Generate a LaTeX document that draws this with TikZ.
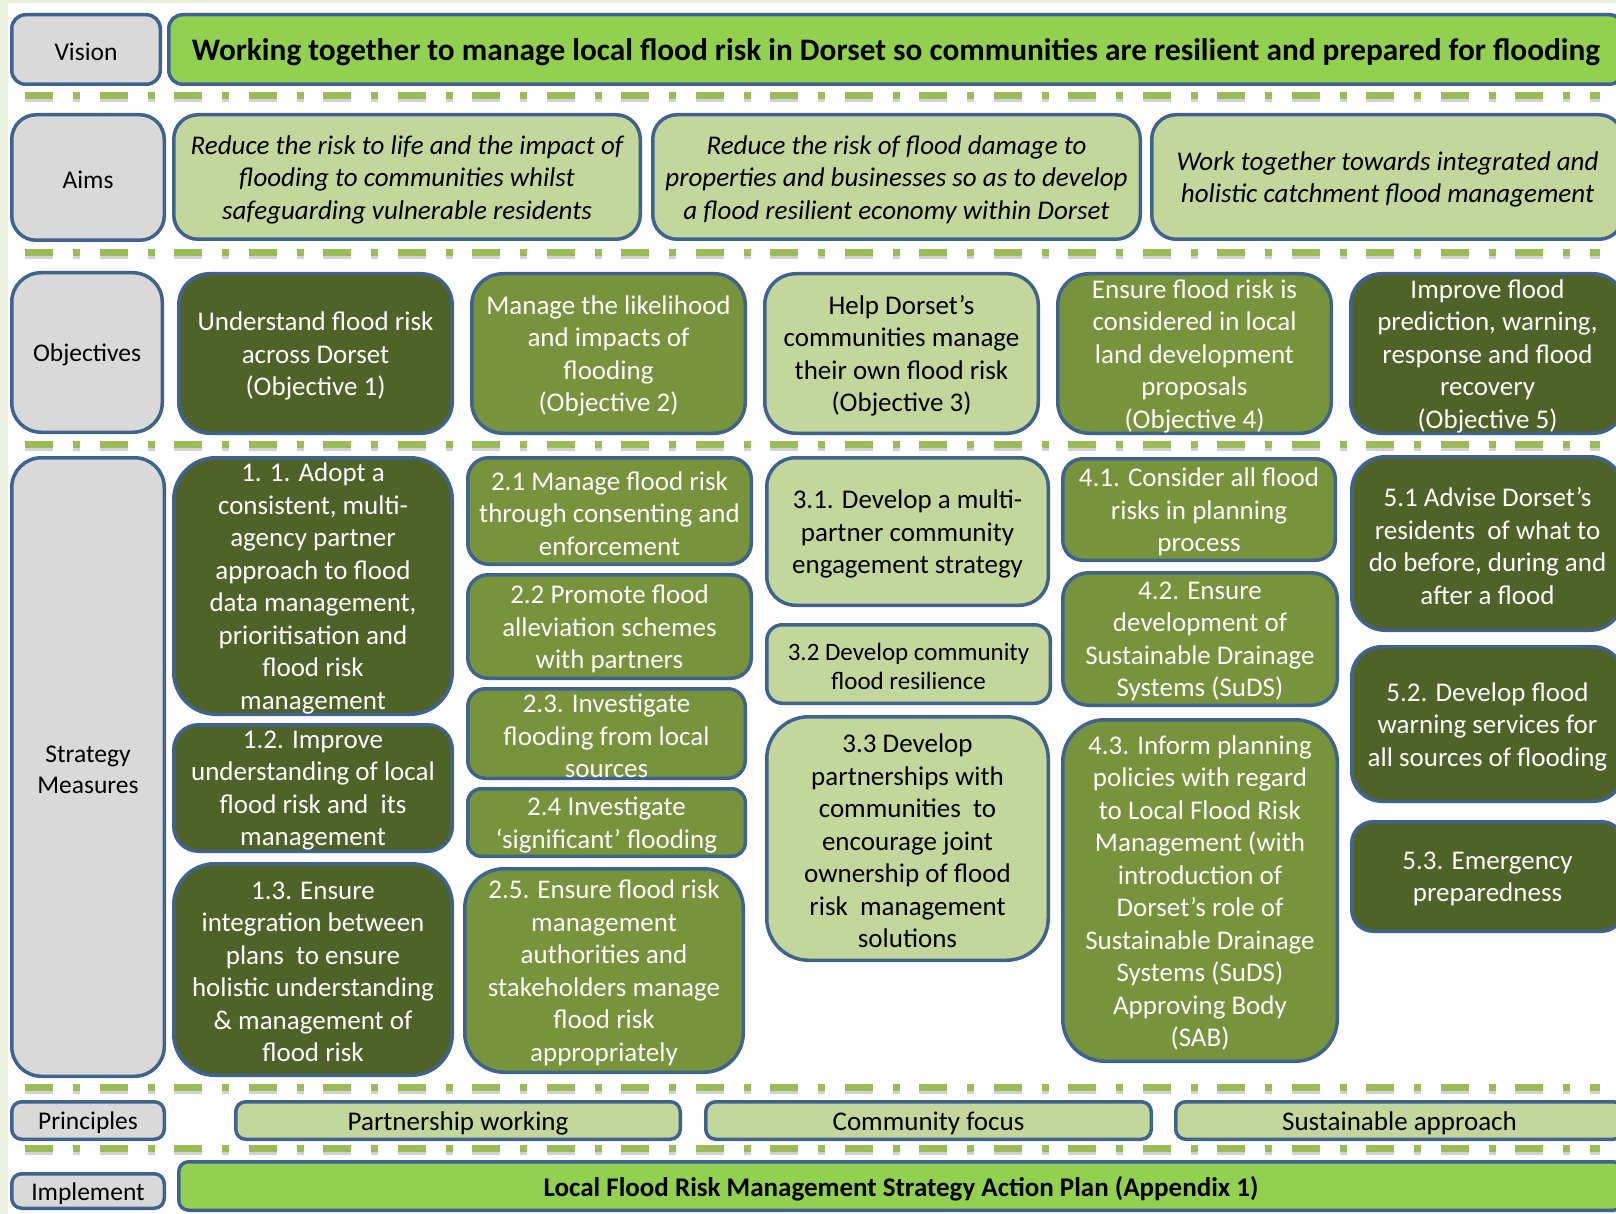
\documentclass[tikz,border=0pt]{standalone}
\usepackage{fontspec}
\setmainfont{Carlito}
\definecolor{bordc}{RGB}{64,99,142}
\definecolor{lgray}{HTML}{D9D9D9}
\definecolor{bgreen}{HTML}{92D050}
\definecolor{lgreen}{HTML}{C3D69B}
\definecolor{mgreen}{HTML}{77933C}
\definecolor{dgreen}{HTML}{4F6228}
\definecolor{dashc}{HTML}{9BBB59}
\definecolor{stripc}{HTML}{EBF1DE}
\newcommand\fsz[2]{\fontsize{#1}{#2}\selectfont}
\newcommand\bx[8]{%
  \pgfmathsetmacro\bw{#4-#2}%
  \pgfmathsetmacro\bh{#5-#3}%
  \pgfmathsetmacro\br{max(10,min(42,0.19*min(\bw,\bh)))}%
  \node[#6, rounded corners=\br pt, minimum width=\bw pt-3.5pt, minimum height=\bh pt-3.5pt, inner sep=0pt] (#1) at ({(#2+#4)/2},{(#3+#5)/2}) {};
  \node[#7] (#1t) at (#1.center) {#8};
}
\newcommand\sepline[1]{%
  \draw[sepshadow] (25,#1) -- (1600,#1);
  \draw[sepdash] (25,#1) -- (1600,#1);
}
\tikzset{
  boxbase/.style={draw=bordc, line width=3.5pt},
  graybox/.style={boxbase, fill=lgray},
  brightbox/.style={boxbase, fill=bgreen},
  lightbox/.style={boxbase, fill=lgreen},
  midbox/.style={boxbase, fill=mgreen},
  darkbox/.style={boxbase, fill=dgreen},
  txt/.style={align=center, inner sep=0pt, yshift=-2.5pt},
  lab/.style={txt, text=black, font=\fsz{25.5}{31}},
  vtxt/.style={txt, text=black, font=\bfseries\fsz{31.3}{36}},
  aimtxt/.style={txt, text=black, font=\itshape\fsz{27}{32.5}},
  tw/.style={txt, text=white, font=\fsz{27}{32.5}},
  tb/.style={txt, text=black, font=\fsz{27}{32.5}},
  tbs/.style={txt, text=black, font=\fsz{25}{29}},
  ptxt/.style={txt, text=black, font=\fsz{27}{30}},
  itxt/.style={txt, text=black, font=\bfseries\fsz{27}{30}},
  sepdash/.style={draw=dashc, line width=7pt, dash pattern=on 28pt off 20pt on 7pt off 19.5pt},
  sepshadow/.style={draw=black, opacity=0.18, line width=7pt, yshift=-3pt, dash pattern=on 28pt off 20pt on 7pt off 19.5pt},
}
\begin{document}
\begin{tikzpicture}[x=1pt,y=-1pt]
\useasboundingbox (0,0) rectangle (1616,1214);
\fill[white] (0,0) rectangle (1616,1214);
\fill[stripc] (0,0) rectangle (1616,3);
\fill[stripc] (0,0) rectangle (8,1214);
% separators
\sepline{96}
\sepline{253}
\sepline{444}
\sepline{1087}
\sepline{1148}
% Vision
\bx{lv}{10}{13}{162}{86}{graybox}{lab}{Vision}
\bx{vis}{167}{13}{1625}{86}{brightbox}{vtxt}{Working together to manage local flood risk in Dorset so communities are resilient and prepared for flooding}
% Aims
\bx{la}{10}{113}{166}{242}{graybox}{lab}{Aims}
\bx{a1}{172}{113}{642}{241}{lightbox}{aimtxt}{Reduce the risk to life and the impact of\\flooding to communities whilst\\safeguarding vulnerable residents}
\bx{a2}{651}{113}{1142}{241}{lightbox}{aimtxt}{Reduce the risk of flood damage to\\properties and businesses so as to develop\\a flood resilient economy within Dorset}
\bx{a3}{1150}{113}{1625}{241}{lightbox}{aimtxt}{Work together towards integrated and\\holistic catchment flood management}
% Objectives
\bx{lo}{10}{271}{164}{434}{graybox}{lab}{Objectives}
\bx{o1}{177}{272}{454}{435}{darkbox}{tw}{Understand flood risk\\across Dorset\\(Objective 1)}
\bx{o2}{470}{272}{747}{435}{midbox}{tw}{Manage the likelihood\\and impacts of\\flooding\\(Objective 2)}
\bx{o3}{763}{272}{1040}{435}{lightbox}{tb}{Help Dorset’s\\communities manage\\their own flood risk\\(Objective 3)}
\bx{o4}{1056}{272}{1333}{435}{midbox}{tw}{Ensure flood risk is\\considered in local\\land development\\proposals\\(Objective 4)}
\bx{o5}{1349}{272}{1626}{435}{darkbox}{tw}{Improve flood\\prediction, warning,\\response and flood\\recovery\\(Objective 5)}
% Strategy measures
\bx{ls}{10}{456}{166}{1078}{graybox}{lab}{Strategy\\Measures}
\bx{s11}{172}{456}{454}{716}{darkbox}{tw}{1. 1. Adopt a\\consistent, multi-\\agency partner\\approach to flood\\data management,\\prioritisation and\\flood risk\\management}
\bx{s12}{172}{723}{454}{853}{darkbox}{tw}{1.2. Improve\\understanding of local\\flood risk and\ \ its\\management}
\bx{s13}{172}{862}{454}{1077}{darkbox}{tw}{1.3. Ensure\\integration between\\plans\ \ to ensure\\holistic understanding\\\& management of\\flood risk}
\bx{s21}{466}{456}{753}{566}{midbox}{tw}{2.1 Manage flood risk\\through consenting and\\enforcement}
\bx{s22}{466}{573}{753}{680}{midbox}{tw}{2.2 Promote flood\\alleviation schemes\\with partners}
\bx{s23}{466}{687}{747}{780}{midbox}{tw}{2.3. Investigate\\flooding from local\\sources}
\bx{s24}{466}{787}{747}{858}{midbox}{tw}{2.4 Investigate\\‘significant’ flooding}
\bx{s25}{463}{867}{745}{1074}{midbox}{tw}{2.5. Ensure flood risk\\management\\authorities and\\stakeholders manage\\flood risk\\appropriately}
\bx{s31}{765}{456}{1050}{607}{lightbox}{tb}{3.1. Develop a multi-\\partner community\\engagement strategy}
\bx{s32}{765}{623}{1052}{705}{lightbox}{tbs}{3.2 Develop community\\flood resilience}
\bx{s33}{765}{715}{1050}{962}{lightbox}{tb}{3.3 Develop\\partnerships with\\communities\ \ to\\encourage joint\\ownership of flood\\risk\ \ management\\solutions}
\bx{s41}{1061}{457}{1337}{562}{midbox}{tw}{4.1. Consider all flood\\risks in planning\\process}
\bx{s42}{1061}{571}{1339}{707}{midbox}{tw}{4.2. Ensure\\development of\\Sustainable Drainage\\Systems (SuDS)}
\bx{s43}{1061}{718}{1339}{1063}{midbox}{tw}{4.3. Inform planning\\policies with regard\\to Local Flood Risk\\Management (with\\introduction of\\Dorset’s role of\\Sustainable Drainage\\Systems (SuDS)\\Approving Body\\(SAB)}
\bx{s51}{1350}{455}{1625}{632}{darkbox}{tw}{5.1 Advise Dorset’s\\residents\ \ of what to\\do before, during and\\after a flood}
\bx{s52}{1350}{645}{1625}{803}{darkbox}{tw}{5.2. Develop flood\\warning services for\\all sources of flooding}
\bx{s53}{1350}{820}{1625}{933}{darkbox}{tw}{5.3. Emergency\\preparedness}
% Principles
\bx{lp}{10}{1100}{166}{1141}{graybox}{lab}{Principles}
\bx{p1}{234}{1100}{682}{1141}{lightbox}{ptxt}{Partnership working}
\bx{p2}{704}{1100}{1153}{1141}{lightbox}{ptxt}{Community focus}
\bx{p3}{1174}{1100}{1625}{1141}{lightbox}{ptxt}{Sustainable approach}
% Implement
\bx{li}{10}{1172}{166}{1210}{graybox}{lab}{Implement}
\bx{imp}{177}{1160}{1625}{1212}{brightbox}{itxt}{Local Flood Risk Management Strategy Action Plan (Appendix 1)}
\end{tikzpicture}
\end{document}
